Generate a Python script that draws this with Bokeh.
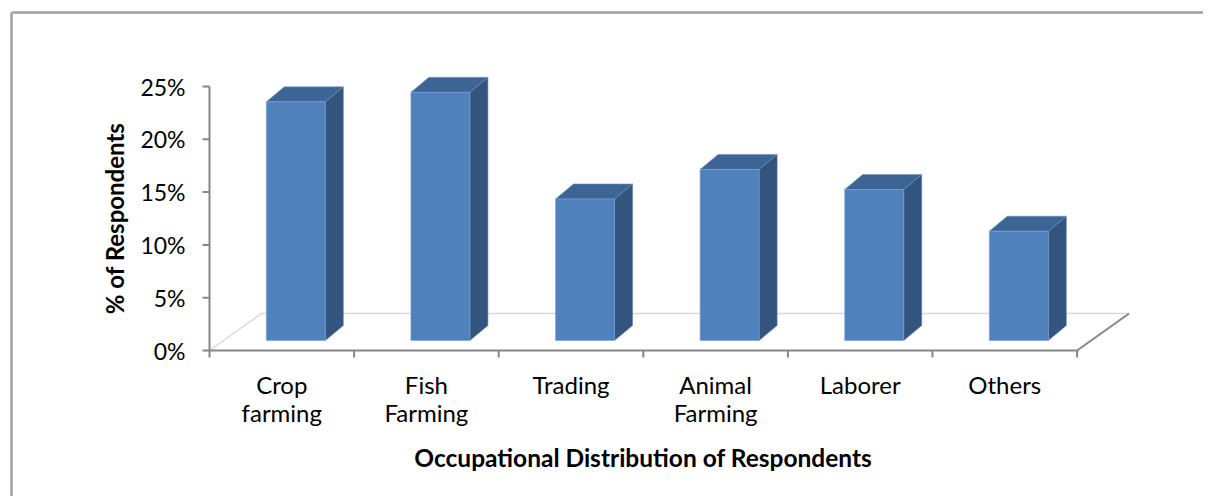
import math
from bokeh.plotting import figure
from bokeh.models import Range1d
from bokeh.core.properties import value
from bokeh.embed import file_html
from bokeh.resources import INLINE

# ---- data ----
categories = ["Crop\nfarming", "Fish\nFarming", "Trading", "Animal\nFarming", "Laborer", "Others"]
percent_values = [22.6, 23.5, 13.4, 16.2, 14.3, 10.35]
y_ticks = [0, 5, 10, 15, 20, 25]
y_tick_labels = ["0%", "5%", "10%", "15%", "20%", "25%"]
x_title = "Occupational Distribution of Respondents"
y_title = "% of Respondents"

# ---- layout (screen pixels -> data units) ----
W, H = 1203, 496
ORG = 0.0                  # screen position of the figure's top-left corner
X0, SX = 209.0, 144.6      # screen x of x=0, px per category
Y0, SY = 350.0, 10.56      # screen y of 0%, px per percent
FONT = "Lato"

def px_x(n):
    return n / SX

def px_y(n):
    return n / SY

p = figure(width=W, height=H, output_backend="svg", toolbar_location=None,
           x_range=Range1d((ORG - X0) / SX, (ORG + W - X0) / SX),
           y_range=Range1d((Y0 - (ORG + H)) / SY, (Y0 - ORG) / SY),
           x_axis_location=None, y_axis_location=None, min_border=0)
p.outline_line_color = None
p.xgrid.visible = False
p.ygrid.visible = False
p.background_fill_color = "white"
p.border_fill_color = "white"

n = len(categories)
AX = "#868686"

# outer chart border (top and left visible in window)
bx = (11 - X0) / SX
by = (Y0 - 12) / SY
xr_end = (ORG + W + 20 - X0) / SX
yr_end = (Y0 - (ORG + H + 20)) / SY
p.line([bx, xr_end], [by, by], line_color="#a0a0a0", line_width=2.5)
p.line([bx, bx], [by, yr_end], line_color="#a0a0a0", line_width=2.5)

# white strip along the right edge of the canvas
p.quad(left=[(ORG + W - 8 - X0) / SX], right=[xr_end], bottom=[yr_end], top=[by - px_y(2)],
       fill_color="white", line_color=None)

# floor
fdx, fdy = px_x(52), px_y(37)
p.patch([0, n, n + fdx, fdx], [0, 0, fdy, fdy], fill_color="white", line_color=None)
p.line([0, fdx, n + fdx], [0, fdy, fdy], line_color="#d9d9d9", line_width=1.5)
p.line([n, n + fdx], [0, fdy], line_color=AX, line_width=2)

# axes
p.line([0, 0], [y_ticks[0], y_ticks[-1]], line_color=AX, line_width=2)
p.segment(x0=[0] * len(y_ticks), y0=y_ticks, x1=[-px_x(7)] * len(y_ticks), y1=y_ticks,
          line_color=AX, line_width=2)
p.line([0, n], [0, 0], line_color=AX, line_width=2)
xt = list(range(n + 1))
p.segment(x0=xt, y0=[0] * len(xt), x1=xt, y1=[-px_y(7)] * len(xt), line_color=AX, line_width=2)

p.text(x=[0] * len(y_ticks), y=y_ticks, text=y_tick_labels, x_offset=-24,
       text_align="right", text_baseline="middle", text_font=value(FONT),
       text_font_size="23px", text_color="#000000")

p.text(x=[0], y=[(y_ticks[0] + y_ticks[-1]) / 2], text=[y_title], x_offset=-95,
       angle=math.pi / 2, text_align="center", text_baseline="middle",
       text_font=value(FONT), text_font_size="24px", text_font_style="bold",
       text_color="#000000")

# category labels (two lines)
centers = [i + 0.5 for i in range(n)]
line1 = [c.split("\n")[0] for c in categories]
line2 = [c.split("\n")[1] if "\n" in c else "" for c in categories]
p.text(x=centers, y=[-px_y(34)] * n, text=line1, text_align="center", text_baseline="middle",
       text_font=value(FONT), text_font_size="24px", text_color="#000000")
p.text(x=centers, y=[-px_y(62)] * n, text=line2, text_align="center", text_baseline="middle",
       text_font=value(FONT), text_font_size="24px", text_color="#000000")

p.text(x=[n / 2], y=[-px_y(107)], text=[x_title], text_align="center", text_baseline="middle",
       text_font=value(FONT), text_font_size="24.5px", text_font_style="bold",
       text_color="#000000")

# 3D bars
bw = px_x(59)
shift = px_x(14)
base = px_y(10)
ddx, ddy = px_x(18), px_y(15)
front_xs, front_ys, side_xs, side_ys, top_xs, top_ys = [], [], [], [], [], []
for i, v in enumerate(percent_values):
    L = i + 0.5 - bw / 2 + shift
    R = L + bw
    b = base
    t = base + v
    front_xs.append([L, R, R, L]); front_ys.append([b, b, t, t])
    side_xs.append([R, R + ddx, R + ddx, R]); side_ys.append([b, b + ddy, t + ddy, t])
    top_xs.append([L, R, R + ddx, L + ddx]); top_ys.append([t, t, t + ddy, t + ddy])

p.patches(side_xs, side_ys, fill_color="#33547D", line_color="#5b7fae", line_width=0.6)
p.patches(top_xs, top_ys, fill_color="#3C6494", line_color="#6f93c2", line_width=0.6)
p.patches(front_xs, front_ys, fill_color="#4F81BD", line_color="#7fa3d3", line_width=0.6)

open("out.html", "w").write(file_html(p, INLINE))
